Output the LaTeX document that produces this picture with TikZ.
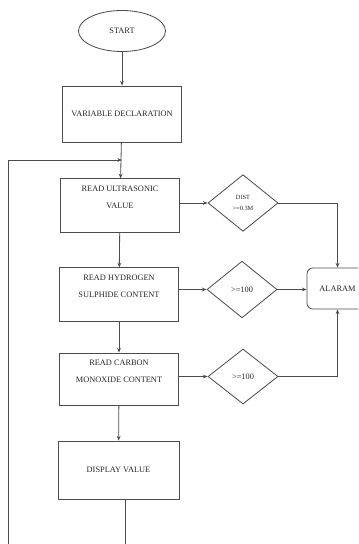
\documentclass[tikz,border=0pt]{standalone}
\usepackage{fontspec}
\setmainfont{Liberation Serif}
\usetikzlibrary{shapes.geometric,arrows.meta}

\begin{document}
\begin{tikzpicture}[x=0.03cm,y=-0.03cm,line width=0.7pt,
  every node/.style={text=black!85,font=\fontsize{7.1}{14.5}\selectfont,align=center},
  ln/.style={draw=black!70},
  arr/.style={ln,-{Stealth[length=4pt,width=3.2pt]}},
  procbox/.style={ln,rectangle,inner sep=0pt,minimum width=3.55cm,minimum height=1.6cm},
  twoline/.style={text depth=14pt},
  decide/.style={ln,diamond,inner sep=0pt,minimum width=2.1cm,minimum height=1.7cm},
  small/.style={font=\fontsize{5.4}{9.4}\selectfont}]
\useasboundingbox (0,0)rectangle(358,544);
\clip (0,0)rectangle(358,544);
\node[ln,ellipse,inner sep=0pt,minimum width=2.61cm,minimum height=1.23cm](start) at (122,31){START};
\node[procbox,minimum width=3.57cm,minimum height=1.68cm](var) at (122,114){VARIABLE DECLARATION};
\node[procbox,twoline](ultra) at (120,205.5){READ ULTRASONIC\\VALUE};
\node[procbox,twoline](hyd) at (119,294.5){READ HYDROGEN\\SULPHIDE CONTENT};
\node[procbox,twoline,minimum height=1.56cm](carb) at (119,379){READ CARBON\\MONOXIDE CONTENT};
\node[procbox,minimum width=3.63cm,minimum height=1.74cm](disp) at (118.5,470){DISPLAY VALUE};
\node[decide,small](d1) at (243,203){DIST\\>=0.3M};
\node[decide](d2) at (242,289.5){>=100};
\node[decide,minimum height=1.65cm](d3) at (243,376.5){>=100};
\node[ln,rectangle,rounded corners=5pt,minimum width=1.83cm,minimum height=1.23cm](alarm) at (337.5,288.5){ALARAM};
\coordinate (join) at (var.south|-0,160);
\coordinate (back) at (8,550);
% main flow
\draw[arr](start)--(var);
\draw[arr](var)--(ultra);
\draw[arr](ultra)--(hyd);
\draw[arr](hyd)--(carb);
\draw[arr](carb)--(disp);
% checks
\draw[arr](ultra.east|-d1)--(d1);
\draw[arr](hyd.east|-d2)--(d2);
\draw[arr](carb.east|-d3)--(d3);
\draw[arr](d1.east)-|(alarm.north);
\draw[arr](d2.east)--(alarm.west|-d2);
\draw[arr](d3.east)-|(alarm.south);
% loop back
\draw[arr]([xshift=5.5pt]disp.south)|-(back)|-(join);
\end{tikzpicture}
\end{document}
